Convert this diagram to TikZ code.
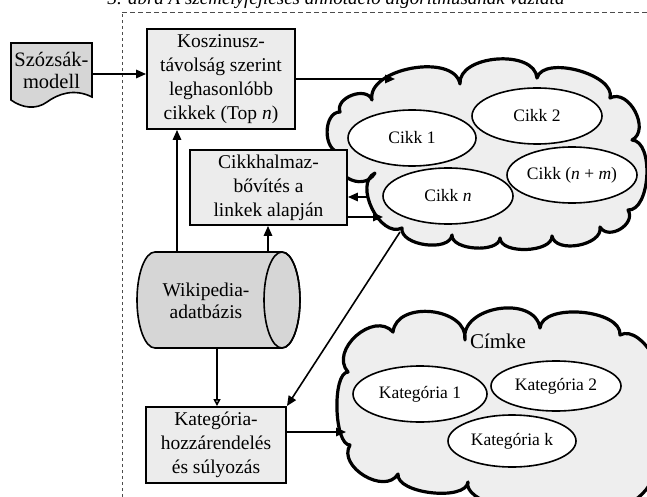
\documentclass[tikz,border=0pt]{standalone}
\usepackage{fontspec}
\setmainfont{Liberation Serif}
\usetikzlibrary{shapes.geometric,arrows.meta,calc}
\definecolor{boxgray}{RGB}{236,236,236}
\definecolor{docgray}{RGB}{214,214,214}
\definecolor{cloudgray}{RGB}{238,238,238}
\begin{document}
\begin{tikzpicture}[x=1pt,y=-1pt,
  boxst/.style={draw, line width=1.9pt, fill=boxgray, align=center, inner sep=0pt, font=\fontsize{19.5}{24}\selectfont},
  ell/.style={ellipse, draw, line width=1.6pt, fill=white, inner sep=0pt, font=\fontsize{17.5}{20}\selectfont},
  arr/.style={line width=1.6pt, -{Triangle[length=10pt,width=8.5pt]}},
  openarr/.style={line width=1.6pt, -{Triangle[open,length=7pt,width=7pt]}},
  cloudst/.style={draw, line width=3.2pt, fill=cloudgray, line join=round},
  framest/.style={line width=1pt, gray!60!black, dash pattern=on 3pt off 3pt},
  bump/.style={to path={.. controls ($(\tikztostart)!#1!90:(\tikztotarget)$) and ($(\tikztotarget)!#1!-90:(\tikztostart)$) .. (\tikztotarget)}}
]
\useasboundingbox (0,0) rectangle (647,497);
\clip (0,0) rectangle (647,497);

% frame
\draw[framest] (122,497) -- (122,13);
\draw[framest, dash pattern=on 5pt off 3pt] (122,13) -- (647,13);

% caption (cut at top, as in the reference)
\node[font=\itshape\fontsize{19}{22}\selectfont, anchor=base, inner sep=0pt] (cap) at (336,5) {3. ábra A szemelyfejléses annotáció algoritmusának vázlata};

% cloud 1
\draw[cloudst] (340,152) to[bump=0.43] (340,112) to[bump=0.45] (372,100) to[bump=0.36] (460,84)
  to[bump=0.38] (537,78) to[bump=0.32] (610,98) to[bump=0.45] (632,140) to[bump=0.32] (628,210)
  to[bump=0.5] (600,227) to[bump=0.38] (552,236) to[bump=0.32] (500,238) to[bump=0.32] (452,235)
  to[bump=0.35] (402,228) to[bump=0.4] (375,173) to[bump=0.6] (340,152) -- cycle;

% cloud 2
\draw[cloudst] (350,445) to[bump=0.22] (348,372) to[bump=0.48] (393,332) to[bump=0.45] (465,340)
  to[bump=0.45] (540,328) to[bump=0.32] (620,335) to[bump=0.35] (655,400) to[bump=0.35] (650,470)
  to[bump=0.35] (600,505) to[bump=0.3] (530,500) to[bump=0.3] (468,482) to[bump=0.28] (398,474)
  to[bump=0.45] (350,445) -- cycle;

% ellipses
\node[ell, minimum width=128pt, minimum height=56pt] (c1) at (412,138) {Cikk 1};
\node[ell, minimum width=130pt, minimum height=56pt] (c2) at (537,116) {Cikk 2};
\node[ell, minimum width=130pt, minimum height=56pt] (cn) at (448,196) {Cikk \textit{n}};
\node[ell, minimum width=130pt, minimum height=56pt] (cnm) at (572,175) {Cikk (\textit{n} + \textit{m})};
\node[font=\fontsize{21}{24}\selectfont, inner sep=0pt] (cimke) at (498,341) {Címke};
\node[ell, minimum width=134pt, minimum height=56pt] (k1) at (420,394) {Kategória 1};
\node[ell, minimum width=130pt, minimum height=50pt] (k2) at (556,386) {Kategória 2};
\node[ell, minimum width=128pt, minimum height=52pt] (kk) at (512,441) {Kategória k};

% boxes
\node[boxst, minimum width=148pt, minimum height=100pt] (box1) at (221,79) {Koszinusz-\\távolság szerint\\leghasonlóbb\\cikkek (Top \textit{n})};
\node[boxst, minimum width=157pt, minimum height=75pt] (box2) at (268.5,187.5) {Cikkhalmaz-\\bővítés a\\linkek alapján};
\node[boxst, minimum width=140pt, minimum height=76pt] (box3) at (216,445) {Kategória-\\hozzárendelés\\és súlyozás};

% document
\draw[line width=1.6pt, fill=docgray] (11,43) -- (92,43) -- (92,97) .. controls (74,88) and (58,94) .. (47,102) .. controls (36,110) and (22,108) .. (11,100) -- cycle;
\node[font=\fontsize{20.5}{22}\selectfont, align=center, inner sep=0pt] (doc) at (51.5,70) {Szózsák-\\modell};

% cylinder
\filldraw[line width=1.6pt, fill=docgray] (155,252) -- (282,252) arc[start angle=-90,end angle=90,x radius=18,y radius=48] -- (155,348) arc[start angle=90,end angle=270,x radius=18,y radius=48] -- cycle;
\draw[line width=1.6pt] (282,300) ellipse[x radius=18,y radius=48];
\node[font=\fontsize{19.5}{22}\selectfont, align=center, inner sep=0pt] (wiki) at (206,301) {Wikipedia-\\adatbázis};

% connector end points
\coordinate (da) at (92,74);
\coordinate (c1in) at (395,79);
\coordinate (w1) at (177,252);
\coordinate (w2) at (268,252);
\coordinate (w3) at (217,348);
\coordinate (c1out) at (368,197);
\coordinate (c1in2) at (383,217);
\coordinate (c1diag) at (400,232);
\coordinate (c2in) at (346,432);

% connectors
\draw[arr] (da) -- (da -| box1.west);
\draw[arr] (box1.east) -- (c1in);
\draw[arr] (w1) -- (w1 |- box1.south);
\draw[arr] (w2) -- (w2 |- box2.south);
\draw[openarr] (w3) -- (w3 |- box3.north);
\draw[arr] (c1out) -- (c1out -| box2.east);
\draw[arr] (c1in2 -| box2.east) -- (c1in2);
\draw[arr] (c1diag) -- (box3.north east);
\draw[arr] (c2in -| box3.east) -- (c2in);
\end{tikzpicture}
\end{document}
